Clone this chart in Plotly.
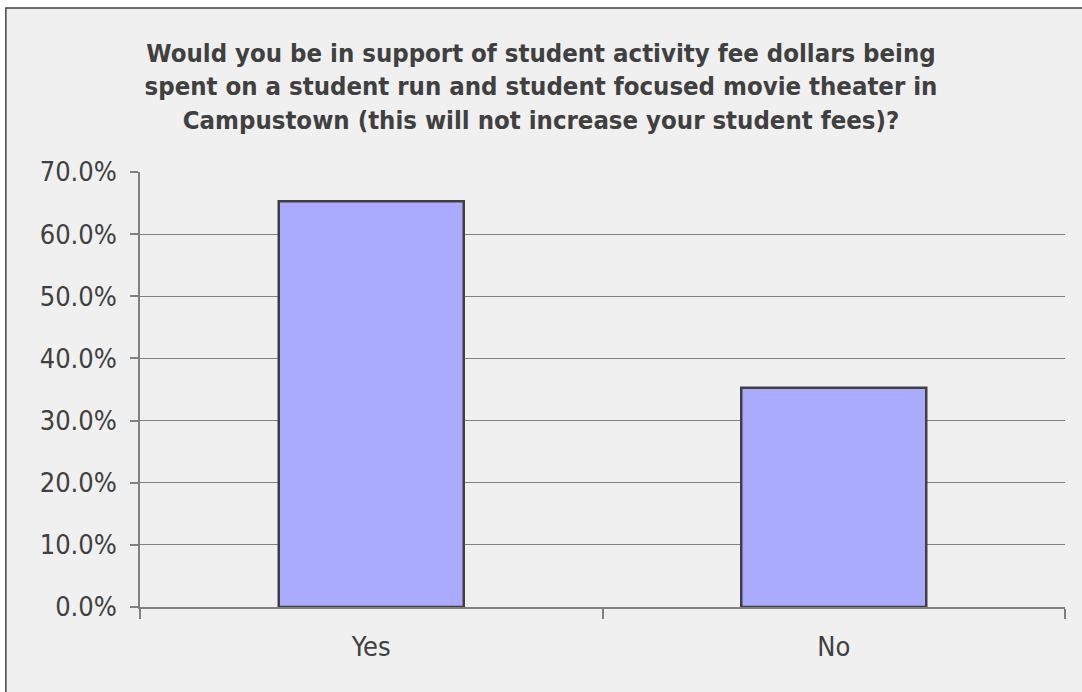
import plotly.graph_objects as go

categories = ["Yes", "No"]
shares = [0.653, 0.353]
y_ticks = [0.0, 0.1, 0.2, 0.3, 0.4, 0.5, 0.6, 0.7]

title_text = ("Would you be in support of student activity fee dollars being<br>"
              "spent on a student run and student focused movie theater in<br>"
              "Campustown (this will not increase your student fees)?")

FONT = "DejaVu Sans Condensed, DejaVu Sans"

fig = go.Figure(go.Bar(
    x=categories,
    y=shares,
    marker={"color": "#aaaaff", "line": {"color": "#404040", "width": 2.5}},
    hovertemplate="%{x}: %{y:.1%}<extra></extra>",
))

# chart frame: grey box starting a few px in from the top-left corner
fig.add_shape(
    type="rect", xref="paper", yref="paper",
    x0=-0.145, x1=1.1, y0=-0.4, y1=1.377,
    fillcolor="#f0f0f0", line={"color": "#404040", "width": 1.5},
    layer="below",
)

fig.update_layout(
    title={
        "text": title_text,
        "x": 0.5,
        "xanchor": "center",
        "xref": "container",
        "y": 0.91,
        "yref": "container",
        "yanchor": "top",
        "font": {"size": 25.5, "family": FONT, "color": "#404040", "weight": "bold"},
    },
    xaxis={
        "showline": True, "linecolor": "#808080", "linewidth": 1.5,
        "ticks": "outside", "tickson": "boundaries", "ticklen": 10,
        "tickcolor": "#808080", "tickwidth": 1.5,
        "showgrid": False,
        "tickfont": {"size": 27, "color": "#404040"},
        "ticklabelstandoff": 15,
    },
    yaxis={
        "range": [0, 0.7],
        "tickvals": y_ticks,
        "tickformat": ".1%",
        "showline": True, "linecolor": "#808080", "linewidth": 1.5,
        "ticks": "outside", "ticklen": 8,
        "tickcolor": "#808080", "tickwidth": 1.5,
        "gridcolor": "#808080", "gridwidth": 1,
        "zeroline": False,
        "tickfont": {"size": 27, "color": "#404040"},
        "ticklabelstandoff": 8,
    },
    bargap=0.6,
    paper_bgcolor="#ffffff",
    plot_bgcolor="#f0f0f0",
    font={"family": FONT, "color": "#404040"},
    showlegend=False,
    width=1082,
    height=692,
    margin={"l": 140, "r": 17, "t": 172, "b": 85},
)

fig.write_html("out.html", config={"displayModeBar": False},
               post_script="document.body.style.margin='0';")
